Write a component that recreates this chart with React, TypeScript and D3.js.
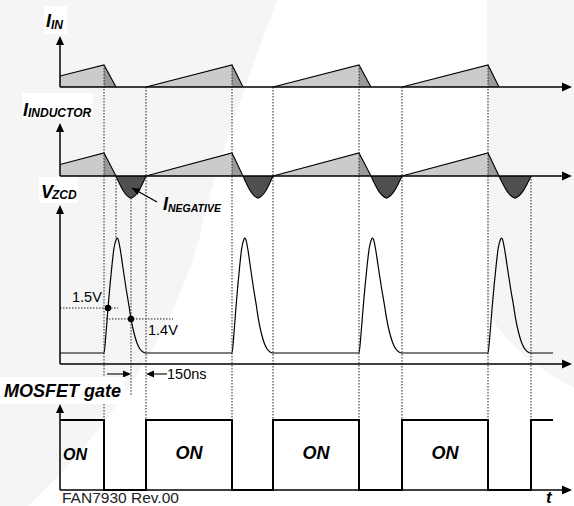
import React from 'react';
import * as d3 from 'd3';

const W = 574;
const H = 506;

// time axis in ns
const T_DOMAIN = [0, 5120];
const GATE_OFF_NS = [440, 1720, 2990, 4280];
const GATE_ON_NS = [860, 2130, 3420, 4710];
const ZERO_CROSS_NS = [560, 1830, 3110, 4390];
const SIGNAL_END_NS = 4930;

// normalized currents
const CURRENT_START = 0.5;
const CURRENT_PEAK = 1;
const NEG_LOBE_FRAC = [0, 0.125, 0.25, 0.375, 0.5, 0.625, 0.75, 0.875, 1];
const NEG_LOBE_VAL = [0, -0.36, -0.66, -0.86, -0.96, -0.86, -0.66, -0.36, 0];

// ZCD pulse shape (time after gate off, normalized voltage)
const PULSE_T_NS = [0, 20, 40, 60, 80, 100, 120, 130, 140, 160, 190, 220, 250, 270, 300, 330, 360, 390, 420];
const PULSE_V = [0, 0.17, 0.391, 0.59, 0.765, 0.913, 0.983, 1, 0.991, 0.913, 0.739, 0.565, 0.409, 0.296, 0.174, 0.087, 0.035, 0.009, 0];
const PULSE_NOMINAL_NS = 420;

const THRESH_LABELS = ['1.5V', '1.4V'];
const THRESH_LEVELS = [0.391, 0.296];
const THRESH_CROSS_NS = [480, 710];
const DELAY_LABEL = '150ns';
const GATE_LABELS = ['ON', 'ON', 'ON', 'ON'];
const FOOTER = 'FAN7930 Rev.00';

const FONT = "'Liberation Sans', Arial, Helvetica, sans-serif";
const LIGHT = '#cbcbcb';
const MID = '#9a9a9a';
const DARK = '#505050';

export default function App() {
  const x = d3.scaleLinear().domain(T_DOMAIN).range([60, 572]);
  const yIn = d3.scaleLinear().domain([0, 1]).range([87, 65]);
  const yL = d3.scaleLinear().domain([0, 1]).range([176, 153]);
  const yV = d3.scaleLinear().domain([0, 1]).range([353, 238]);
  const yG = d3.scaleLinear().domain([0, 1]).range([490, 420]);

  const lin = d3.line<[number, number]>();

  const periods = GATE_OFF_NS.map((off, i) => ({
    start: i === 0 ? 0 : GATE_ON_NS[i - 1],
    startVal: i === 0 ? CURRENT_START : 0,
    off,
    zc: ZERO_CROSS_NS[i],
    on: GATE_ON_NS[i],
  }));

  const currentShapes = (y: d3.ScaleLinear<number, number>, key: string) =>
    periods.map((p, i) => {
      const ramp: [number, number][] = [
        [x(p.start), y(0)], [x(p.start), y(p.startVal)], [x(p.off), y(CURRENT_PEAK)], [x(p.off), y(0)],
      ];
      const fall: [number, number][] = [[x(p.off), y(0)], [x(p.off), y(CURRENT_PEAK)], [x(p.zc), y(0)]];
      const outline: [number, number][] = [[x(p.start), y(p.startVal)], [x(p.off), y(CURRENT_PEAK)], [x(p.zc), y(0)]];
      return (
        <g key={key + i}>
          <path d={lin(ramp) + 'Z'} fill={LIGHT} />
          <path d={lin(fall) + 'Z'} fill={MID} />
          <path d={lin(outline) || ''} fill="none" stroke="#000" strokeWidth={1.1} />
        </g>
      );
    });

  const lobeLine = d3.line<[number, number]>().curve(d3.curveMonotoneX);
  const lobes = periods.map((p, i) => {
    const pts: [number, number][] = NEG_LOBE_FRAC.map((f, k) => [x(p.zc + f * (p.on - p.zc)), yL(NEG_LOBE_VAL[k])]);
    const d = lobeLine(pts) || '';
    return (
      <g key={'lobe' + i}>
        <path d={d + 'Z'} fill={DARK} />
        <path d={d} fill="none" stroke="#000" strokeWidth={1.1} />
      </g>
    );
  });

  // VZCD
  const vPts: [number, number][] = [[x(0), yV(0)]];
  periods.forEach((p) => {
    const dur = p.on - p.off;
    PULSE_T_NS.forEach((t, k) => vPts.push([x(p.off + (t * dur) / PULSE_NOMINAL_NS), yV(PULSE_V[k])]));
  });
  vPts.push([x(SIGNAL_END_NS), yV(0)]);
  const vPath = d3.line<[number, number]>().curve(d3.curveMonotoneX)(vPts) || '';

  // gate
  let gPath = `M${x(0)},${yG(1)}`;
  periods.forEach((p) => {
    gPath += `H${x(p.off)}V${yG(0)}H${x(p.on)}V${yG(1)}`;
  });
  gPath += `H${x(SIGNAL_END_NS)}`;

  // guides
  const guides: { t: number; y1: number; y2: number }[] = [];
  GATE_OFF_NS.forEach((t) => guides.push({ t, y1: yIn(CURRENT_PEAK), y2: yG(1) }));
  GATE_ON_NS.forEach((t, i) =>
    guides.push({ t, y1: i === GATE_ON_NS.length - 1 ? yL(0) : yIn(0), y2: yG(1) })
  );
  guides.push({ t: ZERO_CROSS_NS[0], y1: yL(0), y2: yV(1) });
  guides.push({ t: THRESH_CROSS_NS[1], y1: yL(NEG_LOBE_VAL[4]), y2: 396 });

  const xEnd = x(T_DOMAIN[1]);
  const axisBases = [yIn(0), yL(0), 364, yG(0)];
  const axisTops = [36, 123, 205, 404];

  const upArrow = (ty: number) => `M60,${ty}L56,${ty + 9}L64,${ty + 9}Z`;
  const rightArrow = (yy: number) => `M${xEnd},${yy}L${xEnd - 10},${yy - 4.5}L${xEnd - 10},${yy + 4.5}Z`;

  const labelStyle = { fontFamily: FONT, fontWeight: 700, fontStyle: 'italic' as const };

  const arrowY = 374;
  const xa = x(THRESH_CROSS_NS[1]);
  const xb = x(GATE_ON_NS[0]);

  const negTip: [number, number] = [x(720), yL(-0.52)];
  const negTail: [number, number] = [x(970), 202];
  const ang = Math.atan2(negTip[1] - negTail[1], negTip[0] - negTail[0]);
  const ah = 8, aw = 3.5;
  const negHead = `M${negTip[0]},${negTip[1]}L${negTip[0] - ah * Math.cos(ang) + aw * Math.sin(ang)},${negTip[1] - ah * Math.sin(ang) - aw * Math.cos(ang)}L${negTip[0] - ah * Math.cos(ang) - aw * Math.sin(ang)},${negTip[1] - ah * Math.sin(ang) + aw * Math.cos(ang)}Z`;

  return (
    <svg width={W} height={H} viewBox={`0 0 ${W} ${H}`} style={{ position: 'absolute', left: 0, top: 0, display: 'block' }}>
      {/* watermark background */}
      <rect x={0} y={0} width={W} height={H} fill="#f5f5f5" />
      <path d="M277,0 C240,100 215,170 200,235 C175,330 110,430 28,506 L574,506 L574,388 C540,370 505,345 487,310 L487,0 Z" fill="#ffffff" />

      {/* I_IN */}
      {currentShapes(yIn, 'in')}
      {/* I_INDUCTOR */}
      {currentShapes(yL, 'l')}
      {lobes}

      {/* guides */}
      {guides.map((g, i) => (
        <line key={'g' + i} x1={x(g.t)} x2={x(g.t)} y1={g.y1} y2={g.y2} stroke="#222" strokeWidth={1} strokeDasharray="1.5 1.5" />
      ))}
      <line x1={60} x2={x(580)} y1={yV(THRESH_LEVELS[0])} y2={yV(THRESH_LEVELS[0])} stroke="#222" strokeWidth={1} strokeDasharray="1.5 1.5" />
      <line x1={x(460)} x2={x(1130)} y1={yV(THRESH_LEVELS[1])} y2={yV(THRESH_LEVELS[1])} stroke="#222" strokeWidth={1} strokeDasharray="1.5 1.5" />

      {/* VZCD */}
      <path d={vPath} fill="none" stroke="#000" strokeWidth={1.2} />
      {THRESH_CROSS_NS.map((t, i) => (
        <circle key={'dot' + i} cx={x(t)} cy={yV(THRESH_LEVELS[i])} r={3.2} fill="#000" />
      ))}
      <text x={72} y={302} fontFamily={FONT} fontSize={14.5} fill="#000">{THRESH_LABELS[0]}</text>
      <text x={148} y={335} fontFamily={FONT} fontSize={14.5} fill="#000">{THRESH_LABELS[1]}</text>

      {/* 150ns arrows */}
      <line x1={x(470)} x2={xa - 2} y1={arrowY} y2={arrowY} stroke="#000" strokeWidth={1.1} />
      <path d={`M${xa},${arrowY}L${xa - 8},${arrowY - 3.5}L${xa - 8},${arrowY + 3.5}Z`} fill="#000" />
      <line x1={xb + 2} x2={x(1070)} y1={arrowY} y2={arrowY} stroke="#000" strokeWidth={1.1} />
      <path d={`M${xb},${arrowY}L${xb + 8},${arrowY - 3.5}L${xb + 8},${arrowY + 3.5}Z`} fill="#000" />
      <text x={x(1070)} y={379} fontFamily={FONT} fontSize={14.5} fill="#000">{DELAY_LABEL}</text>

      {/* gate */}
      <path d={gPath} fill="none" stroke="#000" strokeWidth={2} />
      {GATE_LABELS.map((s, i) => {
        if (i === 0) {
          return <text key={'on' + i} x={63} y={460} fontSize={16} {...labelStyle}>{s}</text>;
        }
        const p = periods[i];
        return (
          <text key={'on' + i} x={x((p.start + p.off) / 2)} y={459} fontSize={18} textAnchor="middle" {...labelStyle}>{s}</text>
        );
      })}

      {/* axes */}
      {axisBases.map((b, i) => (
        <g key={'ax' + i}>
          <line x1={60} x2={60} y1={axisTops[i] + 6} y2={b} stroke="#000" strokeWidth={1.5} />
          <path d={upArrow(axisTops[i])} fill="#000" />
          <line x1={60} x2={xEnd - 6} y1={b} y2={b} stroke="#000" strokeWidth={1.5} />
          <path d={rightArrow(b)} fill="#000" />
        </g>
      ))}

      {/* I_NEGATIVE annotation */}
      <line x1={negTail[0]} y1={negTail[1]} x2={negTip[0]} y2={negTip[1]} stroke="#000" strokeWidth={1.3} />
      <path d={negHead} fill="#000" />
      <text x={163} y={210} fontSize={18} {...labelStyle}>I<tspan fontSize={10.5} dy={2}>NEGATIVE</tspan></text>

      {/* signal labels with white boxes */}
      <rect x={44} y={6} width={23} height={28} fill="#fff" />
      <text x={46} y={27} fontSize={18} {...labelStyle}>I<tspan fontSize={12} dy={2}>IN</tspan></text>
      <rect x={22} y={93} width={71} height={26} fill="#fff" />
      <text x={23} y={116} fontSize={18} {...labelStyle}>I<tspan fontSize={12} dy={1}>INDUCTOR</tspan></text>
      <rect x={39} y={177} width={39} height={26} fill="#fff" />
      <text x={41} y={198} fontSize={18} {...labelStyle}>V<tspan fontSize={12} dy={1} dx={-1}>ZCD</tspan></text>
      <rect x={0} y={377} width={125} height={27} fill="#fff" />
      <text x={4} y={397} fontSize={18} {...labelStyle}>MOSFET gate</text>

      {/* footer */}
      <text x={62} y={503} fontFamily={FONT} fontSize={15.5} fill="#222">{FOOTER}</text>
      <text x={546} y={503} fontSize={17} {...labelStyle}>t</text>
    </svg>
  );
}
